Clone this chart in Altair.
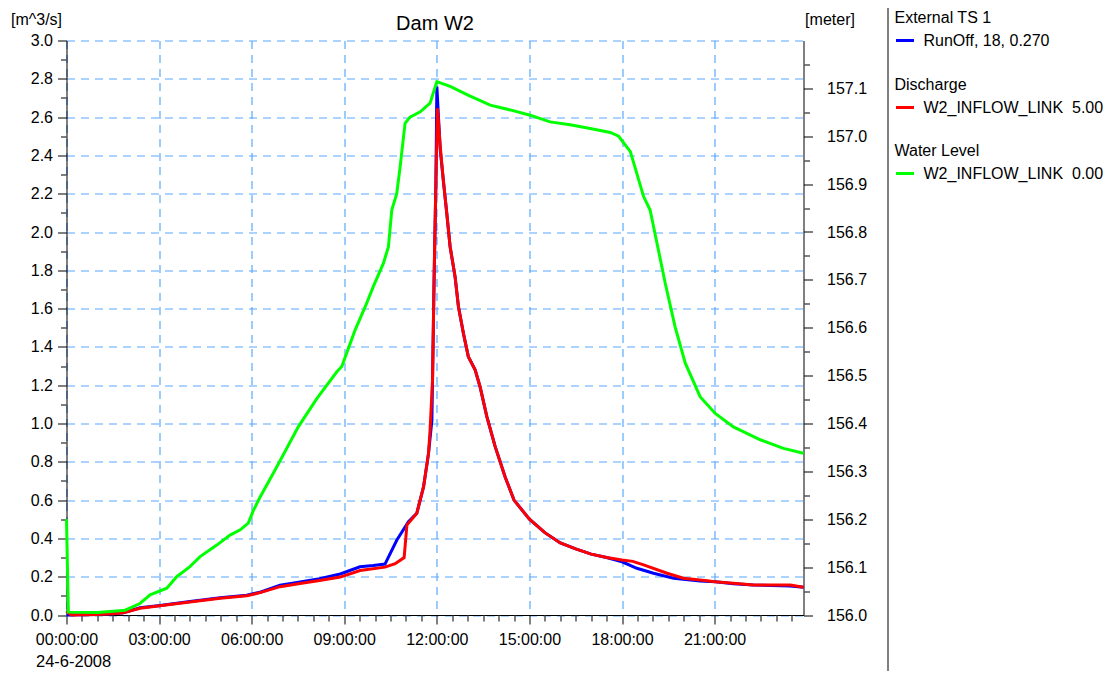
import altair as alt
import pandas as pd

FONT = "Liberation Sans"

# ---- Data (time in hours after 24-6-2008 00:00) ----
runoff_h = [0.0, 1.0, 1.5, 1.84, 2.38, 3.03, 4.0, 4.98, 5.84, 6.3, 6.92, 7.57, 8.2, 8.87,
            9.51, 9.94, 10.32, 10.70, 11.08, 11.35, 11.57, 11.73, 11.84, 11.86, 11.91, 11.97,
            12.0, 12.11, 12.21, 12.32, 12.43, 12.59, 12.70, 12.86, 13.02, 13.24, 13.40, 13.62,
            13.89, 14.21, 14.5, 15.0, 15.5, 16.0, 16.5, 17.0, 17.5, 18.0, 18.48, 19.02, 19.67,
            20.53, 21.02, 21.61, 22.26, 23.45, 23.88]
runoff_v = [0.0, 0.002, 0.006, 0.012, 0.038, 0.05, 0.07, 0.09, 0.103, 0.12, 0.155, 0.172, 0.19, 0.214,
            0.252, 0.258, 0.266, 0.39, 0.487, 0.531, 0.67, 0.844, 1.018, 1.227, 1.75, 2.27,
            2.76, 2.43, 2.27, 2.1, 1.923, 1.767, 1.61, 1.471, 1.349, 1.28, 1.192, 1.036,
            0.879, 0.722, 0.6, 0.5, 0.43, 0.376, 0.345, 0.318, 0.30, 0.278, 0.244, 0.218, 0.192,
            0.178, 0.174, 0.163, 0.157, 0.152, 0.145]

discharge_h = [0.0, 0.15, 1.0, 1.5, 1.84, 2.38, 3.03, 4.0, 4.98, 5.84, 6.3, 6.92, 7.57, 8.2,
               8.87, 9.51, 10.32, 10.65, 10.94, 11.03, 11.35, 11.57, 11.73, 11.78, 11.86, 11.91,
               11.97, 12.02, 12.11, 12.21, 12.32, 12.43, 12.59, 12.70, 12.86, 13.02, 13.24, 13.40,
               13.62, 13.89, 14.21, 14.5, 15.0, 15.5, 16.0, 16.5, 17.0, 17.5, 18.0, 18.35, 18.7,
               19.46, 19.99, 20.53, 21.02, 21.61, 22.26, 23.45, 23.88]
discharge_v = [0.02, 0.0, 0.003, 0.007, 0.012, 0.035, 0.048, 0.068, 0.088, 0.100, 0.118, 0.148, 0.165, 0.18,
               0.198, 0.232, 0.25, 0.268, 0.30, 0.47, 0.531, 0.67, 0.844, 0.966, 1.227, 1.75,
               2.27, 2.646, 2.445, 2.27, 2.1, 1.923, 1.767, 1.61, 1.471, 1.349, 1.28, 1.192,
               1.036, 0.879, 0.722, 0.6, 0.5, 0.43, 0.376, 0.345, 0.318, 0.30, 0.287, 0.28, 0.262,
               0.218, 0.192, 0.183, 0.174, 0.166, 0.157, 0.157, 0.145]

level_h = [0.0, 0.06, 1.0, 1.9, 2.38, 2.71, 3.25, 3.57, 4.0, 4.33, 4.87, 5.30, 5.63, 5.89, 6.06,
           6.27, 6.70, 6.92, 7.51, 8.11, 8.76, 8.92, 9.35, 9.68, 9.94, 10.27, 10.43, 10.54, 10.70,
           10.81, 10.97, 11.13, 11.46, 11.78, 12.0, 12.43, 13.08, 13.73, 14.38, 15.02, 15.67,
           16.32, 16.97, 17.62, 17.89, 18.27, 18.70, 18.91, 19.18, 19.40, 19.72, 20.05, 20.53,
           21.02, 21.61, 22.48, 23.23, 23.88]
level_m = [156.200, 156.006, 156.005, 156.010, 156.024, 156.042, 156.056, 156.080, 156.101, 156.122,
           156.146, 156.167, 156.178, 156.192, 156.219, 156.246, 156.296, 156.322, 156.393, 156.452,
           156.508, 156.519, 156.595, 156.644, 156.686, 156.735, 156.769, 156.846, 156.880, 156.936,
           157.027, 157.040, 157.051, 157.069, 157.114, 157.104, 157.084, 157.065, 157.055, 157.044,
           157.030, 157.024, 157.016, 157.008, 157.000, 156.968, 156.874, 156.846, 156.762, 156.693,
           156.602, 156.526, 156.456, 156.421, 156.393, 156.366, 156.348, 156.338]

x_major = [0, 3, 6, 9, 12, 15, 18, 21]
x_minor = [h / 2 for h in range(1, 48) if h % 6 != 0]
left_major = [round(i * 0.2, 1) for i in range(16)]
left_minor = [round(0.1 + i * 0.2, 1) for i in range(15)]
right_major = [round(156.0 + i * 0.1, 1) for i in range(12)]
right_minor = [round(156.05 + i * 0.1, 2) for i in range(12)]

legend_runoff = "RunOff, 18, 0.270"
legend_discharge = "W2_INFLOW_LINK\u00a0 5.00"
legend_level = "W2_INFLOW_LINK\u00a0 0.00"

df_run = pd.DataFrame({"h": runoff_h, "v": runoff_v, "s": legend_runoff})
df_dis = pd.DataFrame({"h": discharge_h, "v": discharge_v, "s": legend_discharge})
df_lvl = pd.DataFrame({"h": level_h, "m": level_m, "s": legend_level})

W, H = 737, 574.5
xs = alt.Scale(domain=[0, 23.88], nice=False, zero=False)
ys_left = alt.Scale(domain=[0, 3.0], nice=False, zero=False)
ys_right = alt.Scale(domain=[156.0, 157.2], nice=False, zero=False)

GRID = "#5aa8ff"

x_axis_major = alt.Axis(
    values=x_major, labelExpr="(datum.value < 10 ? '0' : '') + datum.value + ':00:00'",
    grid=True, gridColor=GRID, gridDash=[8, 6], gridWidth=1.2,
    tickSize=9, labelFlush=False, labelOverlap=False, labelPadding=7,
    title="24-6-2008", titleAnchor="start", titleAlign="left", titleX=-31, titleY=51,
    titleFontSize=16.5, titleBaseline="alphabetic", orient="bottom")
x_axis_minor = alt.Axis(values=x_minor, labels=False, grid=False, domain=False,
                        tickSize=6, title=None, orient="bottom")

y_axis_left = alt.Axis(
    values=left_major, format=".1f", grid=True, gridColor=GRID, gridDash=[8, 6], gridWidth=1.2,
    tickSize=9, labelPadding=5, labelOverlap=False, orient="left",
    title="[m^3/s]", titleAngle=0, titleAlign="center", titleX=-30.5, titleY=-16,
    titleBaseline="alphabetic")
y_axis_left_minor = alt.Axis(values=left_minor, labels=False, grid=False, domain=False,
                             tickSize=6, title=None, orient="left")
y_axis_right = alt.Axis(
    values=right_major, format=".1f", grid=False, tickSize=9, labelPadding=14,
    labelOverlap=False, orient="right",
    title="[meter]", titleAngle=0, titleAlign="center", titleX=26, titleY=-16,
    titleBaseline="alphabetic")
y_axis_right_minor = alt.Axis(values=right_minor, labels=False, grid=False, domain=False,
                              tickSize=6, title=None, orient="right")


def leg(title, y):
    return alt.Legend(title=title, orient="none", legendX=828, legendY=y,
                      symbolType="stroke", symbolSize=324, symbolStrokeWidth=3,
                      labelFontSize=16, titleFontSize=16, titleFontWeight="normal",
                      labelFont=FONT, titleFont=FONT, labelColor="black", titleColor="black",
                      padding=0, titlePadding=4, labelOffset=8, rowPadding=0,
                      labelLimit=400, titleLimit=400)


blue = alt.Chart(df_run).mark_line(strokeWidth=3).encode(
    x=alt.X("h:Q", scale=xs, axis=x_axis_major),
    y=alt.Y("v:Q", scale=ys_left, axis=y_axis_left),
    color=alt.Color("s:N", scale=alt.Scale(domain=[legend_runoff], range=["#0000ff"]),
                    legend=leg("External TS 1", -30.5)),
)
red = alt.Chart(df_dis).mark_line(strokeWidth=3).encode(
    x=alt.X("h:Q", scale=xs, axis=x_axis_minor),
    y=alt.Y("v:Q", scale=ys_left, axis=y_axis_left_minor),
    color=alt.Color("s:N", scale=alt.Scale(domain=[legend_discharge], range=["#ff0000"]),
                    legend=leg("Discharge", 36.5)),
)
green = alt.Chart(df_lvl).mark_line(strokeWidth=3).encode(
    x=alt.X("h:Q", scale=xs, axis=None),
    y=alt.Y("m:Q", scale=ys_right, axis=y_axis_right),
    color=alt.Color("s:N", scale=alt.Scale(domain=[legend_level], range=["#00ff00"]),
                    legend=leg("Water Level", 102.5)),
)
green_ticks = alt.Chart(df_lvl).mark_line(opacity=0).encode(
    x=alt.X("h:Q", scale=xs, axis=None),
    y=alt.Y("m:Q", scale=ys_right, axis=y_axis_right_minor),
)
sep = alt.Chart(pd.DataFrame({"a": [0]})).mark_rule(color="black", strokeWidth=1).encode(
    x=alt.value(821.5), y=alt.value(-32.5), y2=alt.value(645))

chart = alt.layer(blue, red, green, green_ticks, sep).resolve_scale(
    y="independent", color="independent"
).resolve_axis(x="independent", y="independent").properties(
    width=W, height=H,
    title=alt.TitleParams("Dam W2", anchor="middle", fontSize=20, fontWeight="normal",
                          font=FONT, color="black", frame="group", baseline="alphabetic",
                          offset=0, dy=42),
    autosize=alt.AutoSizeParams(type="none"),
    padding={"left": 58.5, "top": 32.5, "right": 300, "bottom": 56},
).configure_view(stroke=None).configure_axis(
    labelFont=FONT, labelFontSize=16, labelColor="black",
    titleFont=FONT, titleFontSize=16, titleFontWeight="normal", titleColor="black",
    domainColor="black", domainWidth=1, tickColor="#555555", tickWidth=1.5,
)

chart.save("out.html", embed_options={"renderer": "svg", "actions": False})
